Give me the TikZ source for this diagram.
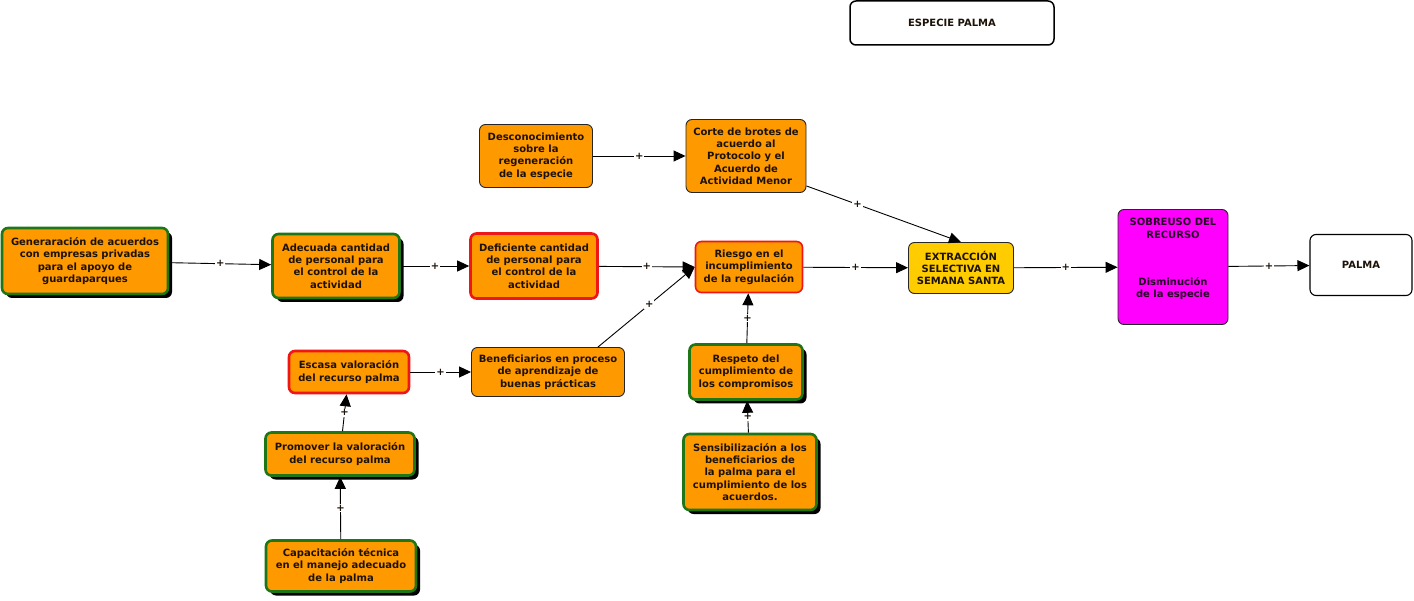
\documentclass[tikz,border=0pt]{standalone}
\usepackage{fontspec}
\setmainfont{DejaVu Sans}
\usetikzlibrary{arrows.meta,shadows}
\definecolor{orfill}{HTML}{FF9900}
\definecolor{grborder}{RGB}{30,118,22}
\definecolor{rdborder}{RGB}{238,22,22}
\definecolor{goldfill}{HTML}{FFCC00}
\definecolor{magfill}{HTML}{FF00FF}
\definecolor{txt}{RGB}{28,18,8}
\tikzset{
  base/.style={rounded corners=6pt, align=center, inner sep=0pt, text=txt,
    font=\bfseries\fontsize{10}{12.3}\selectfont},
  orbox/.style={base, fill=orfill, draw=black!85, line width=0.9pt},
  grbox/.style={base, fill=orfill, draw=grborder, line width=2.6pt,
    drop shadow={fill=black, opacity=1, shadow xshift=4pt, shadow yshift=-4pt}},
  rdbox/.style={base, fill=orfill, draw=rdborder, line width=2.6pt},
  rdthin/.style={base, fill=orfill, draw=rdborder, line width=1.6pt},
  goldbox/.style={base, fill=goldfill, draw=black!85, line width=0.9pt},
  magbox/.style={base, fill=magfill, draw=black!85, line width=0.9pt},
  whbox/.style={base, fill=white, draw=black, line width=1.1pt},
  arr/.style={draw=black, line width=0.9pt, -{Triangle[length=12pt,width=11pt]}},
  plus/.style={fill=white, inner sep=1pt, font=\bfseries\fontsize{10}{10}\selectfont, text=txt}
}
\begin{document}
\begin{tikzpicture}[x=1pt,y=-1pt]
\useasboundingbox[fill=white] (0,0) rectangle (1414,601);

\node[grbox, minimum width=166pt, minimum height=66pt] (gen) at (85,261)
  {Generaración de acuerdos\\con empresas privadas\\para el apoyo de\\guardaparques};
\node[grbox, minimum width=127pt, minimum height=64pt] (ade) at (336,266)
  {Adecuada cantidad\\de personal para\\el control de la\\actividad};
\node[rdbox, minimum width=127pt, minimum height=65pt] (def) at (534,266)
  {Deficiente cantidad\\de personal para\\el control de la\\actividad};
\node[rdthin, minimum width=107pt, minimum height=51pt] (rie) at (749,267)
  {Riesgo en el\\incumplimiento\\de la regulación};
\node[orbox, minimum width=113pt, minimum height=63pt] (des) at (536,156)
  {Desconocimiento\\sobre la\\regeneración\\de la especie};
\node[orbox, minimum width=120pt, minimum height=73pt] (cor) at (746,156)
  {Corte de brotes de\\acuerdo al\\Protocolo y el\\Acuerdo de\\Actividad Menor};
\node[goldbox, minimum width=105pt, minimum height=51pt] (ext) at (961,268)
  {EXTRACCIÓN\\SELECTIVA EN\\SEMANA SANTA};
\node[magbox, minimum width=110pt, minimum height=115pt] (sob) at (1173,267) {};
\node[base, text=black!85!magfill] (sobtxt) at (1173,259)
  {SOBREUSO DEL\\RECURSO\\[35pt]Disminución\\de la especie};
\node[whbox, minimum width=102pt, minimum height=61pt] (pal) at (1361,265) {PALMA};
\node[whbox, line width=1.5pt, minimum width=204pt, minimum height=44pt] (esp) at (952,23) {ESPECIE PALMA};
\node[rdbox, minimum width=120pt, minimum height=42pt] (esc) at (349,372)
  {Escasa valoración\\del recurso palma};
\node[orbox, minimum width=153pt, minimum height=49pt] (ben) at (548,372)
  {Beneficiarios en proceso\\de aprendizaje de\\buenas prácticas};
\node[grbox, minimum width=149pt, minimum height=43pt] (pro) at (340,454)
  {Promover la valoración\\del recurso palma};
\node[grbox, minimum width=150pt, minimum height=51pt] (cap) at (341,566)
  {Capacitación técnica\\en el manejo adecuado\\de la palma};
\node[grbox, minimum width=113pt, minimum height=55pt] (res) at (746,372)
  {Respeto del\\cumplimiento de\\los compromisos};
\node[grbox, minimum width=133pt, minimum height=76pt] (sen) at (750,472)
  {Sensibilización a los\\beneficiarios de\\la palma para el\\cumplimiento de los\\acuerdos.};

\draw[arr] (gen) -- node[plus]{+} (ade);
\draw[arr] (ade) -- node[plus]{+} (def);
\draw[arr] (def) -- node[plus]{+} (rie.west);
\draw[arr] ([xshift=-27pt]ben.north east) -- node[plus, pos=0.53]{+} (rie.west);
\draw[arr] (des) -- node[plus]{+} (cor);
\draw[arr] ([yshift=7pt]cor.south east) -- node[plus, pos=0.33]{+} (ext.north);
\draw[arr] (rie) -- node[plus]{+} (ext);
\draw[arr] (ext) -- node[plus]{+} (sob);
\draw[arr] (sob) -- node[plus]{+} (pal);
\draw[arr] (esc) -- node[plus]{+} (ben);
\draw[arr] (pro) -- node[plus]{+} (esc);
\draw[arr] (cap) -- node[plus]{+} (pro);
\draw[arr] (res) -- node[plus]{+} (rie);
\draw[arr] (sen) -- node[plus]{+} (res);
\end{tikzpicture}
\end{document}
